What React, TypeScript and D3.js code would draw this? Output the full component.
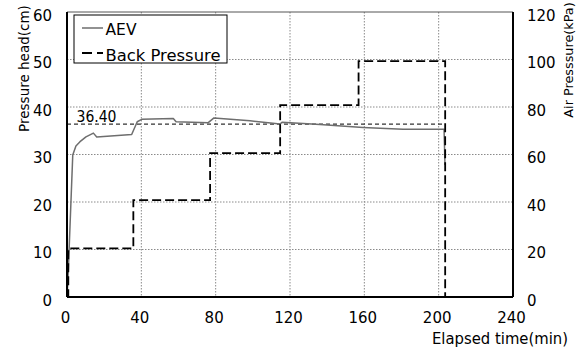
import React from "react";
import * as d3 from "d3";

// AEV pressure head readings (time in min, head in cm)
const aevTime = [0, 0.5, 3.1, 4.8, 7.0, 10.2, 14.2, 16.0, 34.8, 37.8, 40.2, 57.2, 58.7, 76.0, 79.1, 98.5, 114.6, 115.7, 136.1, 159.3, 180.8, 202.9, 203.4];
const aevHead = [0, 3.6, 29.9, 31.8, 32.7, 33.7, 34.5, 33.7, 34.2, 36.9, 37.4, 37.6, 36.9, 36.7, 37.7, 37.1, 36.4, 36.8, 36.3, 35.7, 35.3, 35.3, 27.8];

// Back pressure steps (time in min, pressure in kPa)
const bpTime = [0, 0.7, 0.7, 35.7, 35.7, 77.0, 77.0, 114.7, 114.7, 156.9, 156.9, 203.5, 203.5];
const bpKPa = [0, 0, 20.5, 20.5, 40.8, 40.8, 60.6, 60.6, 80.8, 80.8, 99.3, 99.3, 0];

// Reference level on the pressure-head axis
const refLevel = 36.4;
const refLabel = "36.40";
const refEnd = 203.5;

const xTicks = [0, 40, 80, 120, 160, 200, 240];
const leftTicks = [0, 10, 20, 30, 40, 50, 60];
const rightTicks = [0, 20, 40, 60, 80, 100, 120];

const W = 582;
const H = 351;
const FONT = "'DejaVu Sans', 'Liberation Sans', sans-serif";

export default function App() {
  const x = d3.scaleLinear().domain([0, 240]).range([67, 513]);
  const yL = d3.scaleLinear().domain([0, 60]).range([297, 12]);
  const yR = d3.scaleLinear().domain([0, 120]).range([297, 12]);

  const aevLine = d3
    .line<number>()
    .x((_, i) => x(aevTime[i]))
    .y((d) => yL(d));
  const bpLine = d3
    .line<number>()
    .x((_, i) => x(bpTime[i]))
    .y((d) => yR(d));

  const [x0, x1] = x.range();
  const [y0, y1] = yL.range();

  return (
    <svg
      width={W}
      height={H}
      style={{ position: "absolute", left: 0, top: 0, background: "#fff" }}
      fontFamily={FONT}
    >
      <rect width={W} height={H} fill="#fff" />

      {/* grid */}
      {xTicks.slice(1, -1).map((t) => (
        <line key={"gx" + t} x1={x(t)} x2={x(t)} y1={y1} y2={y0} stroke="#8a8a8a" strokeWidth={1} strokeDasharray="1.5,1.5" />
      ))}
      {leftTicks.slice(1, -1).map((t) => (
        <line key={"gy" + t} x1={x0} x2={x1} y1={yL(t)} y2={yL(t)} stroke="#8a8a8a" strokeWidth={1} strokeDasharray="1.5,1.5" />
      ))}
      <line x1={x0} x2={x1} y1={y1} y2={y1} stroke="#555" strokeWidth={1} />

      {/* reference level */}
      <line
        x1={x(0)}
        x2={x(refEnd)}
        y1={yL(refLevel)}
        y2={yL(refLevel)}
        stroke="#333"
        strokeWidth={1.3}
        strokeDasharray="4,3"
      />
      <text x={x(0) + 9.5} y={yL(refLevel) - 2.5} fontSize={15.5} textLength={40} lengthAdjust="spacingAndGlyphs" fill="#000">
        {refLabel}
      </text>

      {/* series */}
      <path d={aevLine(aevHead) ?? ""} fill="none" stroke="#6e6e6e" strokeWidth={1.5} strokeLinejoin="round" />
      <path d={bpLine(bpKPa) ?? ""} fill="none" stroke="#000" strokeWidth={1.8} strokeDasharray="9,4" />

      {/* frame */}
      <line x1={x0} x2={x0} y1={y1} y2={y0} stroke="#000" strokeWidth={2} />
      <line x1={x1} x2={x1} y1={y1} y2={y0} stroke="#000" strokeWidth={2} />
      <line x1={x0} x2={x1} y1={y0} y2={y0} stroke="#000" strokeWidth={2} />

      {/* tick labels */}
      {leftTicks.map((t) => (
        <text key={"ly" + t} x={52} y={yL(t) + 8.5} fontSize={15} textAnchor="end" fill="#000">
          {t}
        </text>
      ))}
      {rightTicks.map((t) => (
        <text key={"ry" + t} x={527} y={yR(t) + 8.5} fontSize={15} textAnchor="start" fill="#000">
          {t}
        </text>
      ))}
      {xTicks.map((t) => (
        <text key={"lx" + t} x={x(t) - 1.5} y={323} fontSize={15} textAnchor="middle" fill="#000">
          {t}
        </text>
      ))}

      {/* axis titles */}
      <text x={568} y={343.5} fontSize={15} textAnchor="end" textLength={136} lengthAdjust="spacingAndGlyphs" fill="#000">
        Elapsed time(min)
      </text>
      <text transform="translate(29,68.5) rotate(-90)" fontSize={13.5} textAnchor="middle" fill="#000">
        Pressure head(cm)
      </text>
      <text transform="translate(572.5,60) rotate(-90)" fontSize={12.8} textAnchor="middle" fill="#000">
        Air Presssure(kPa)
      </text>

      {/* legend */}
      <rect x={74} y={15} width={153} height={48} fill="#fff" stroke="#000" strokeWidth={1} />
      <line x1={82} x2={103} y1={28} y2={28} stroke="#6e6e6e" strokeWidth={1.5} />
      <text x={105.5} y={35} fontSize={15.5} fill="#000">AEV</text>
      <line x1={82} x2={103} y1={53} y2={53} stroke="#000" strokeWidth={1.8} strokeDasharray="10,5" />
      <text x={105.5} y={60.5} fontSize={15.5} textLength={115} lengthAdjust="spacingAndGlyphs" fill="#000">Back Pressure</text>
    </svg>
  );
}
